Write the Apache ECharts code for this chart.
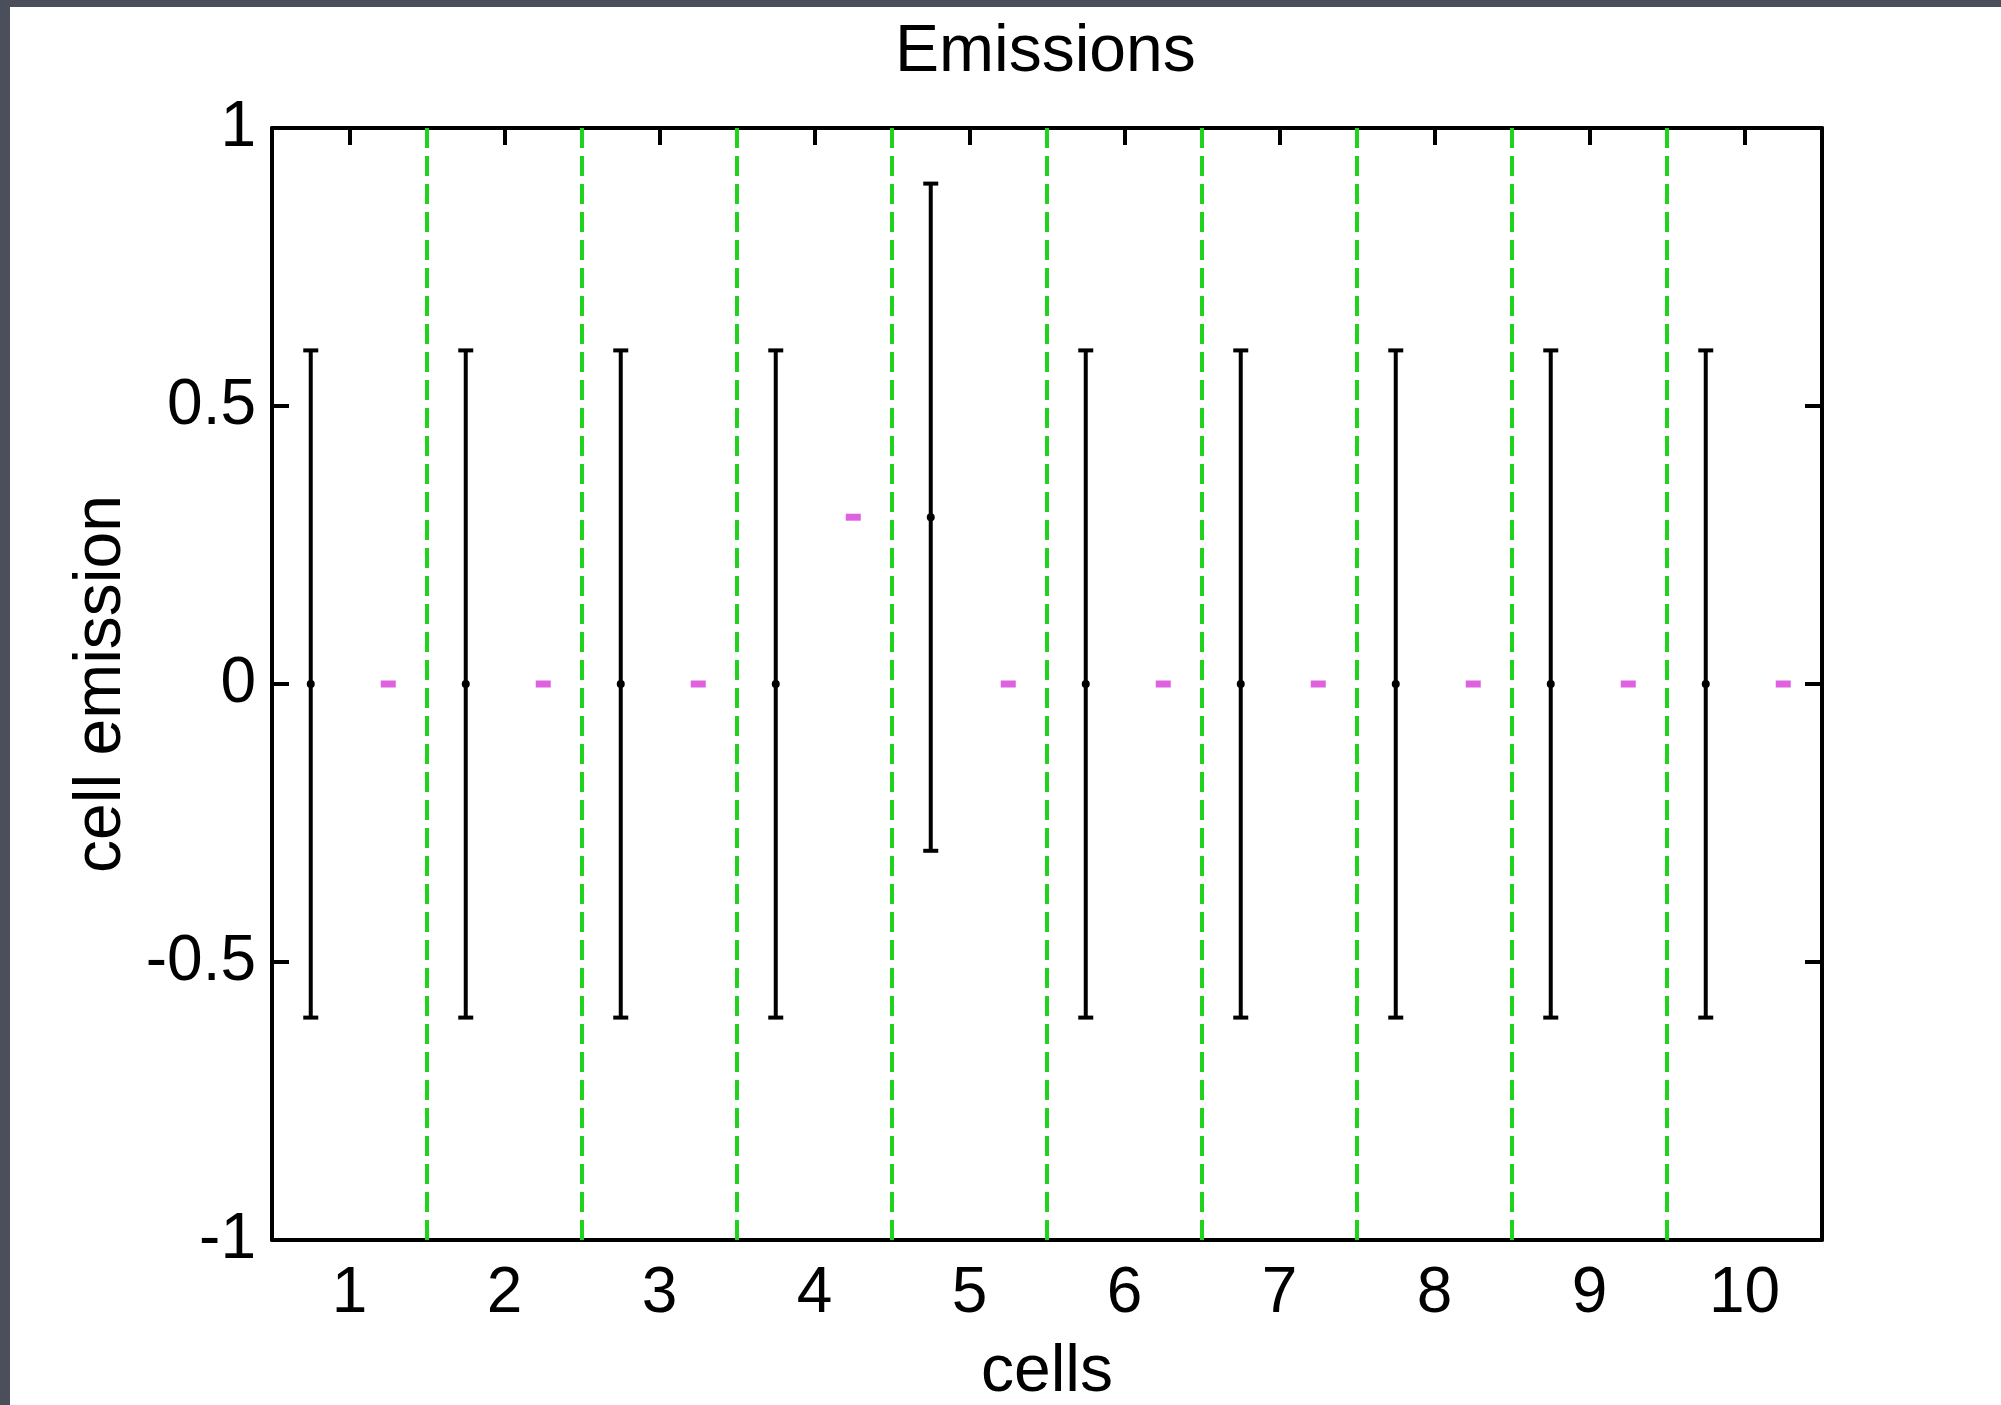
<!DOCTYPE html>
<html>
<head>
<meta charset="utf-8">
<script src="https://cdn.jsdelivr.net/npm/echarts@6/dist/echarts.min.js"></script>
<style>
  html, body { margin: 0; padding: 0; background: #4b4f5b; width: 2001px; height: 1405px; overflow: hidden; }
  #container { position: absolute; left: 10px; top: 7px; width: 1991px; height: 1398px; background: #ffffff; }
</style>
</head>
<body>
<div id="container"></div>
<script>
var cells = [1, 2, 3, 4, 5, 6, 7, 8, 9, 10];
var errLow = [-0.6, -0.6, -0.6, -0.6, -0.3, -0.6, -0.6, -0.6, -0.6, -0.6];
var errMid = [0, 0, 0, 0, 0.3, 0, 0, 0, 0, 0];
var errHigh = [0.6, 0.6, 0.6, 0.6, 0.9, 0.6, 0.6, 0.6, 0.6, 0.6];
var emitted = [0, 0, 0, 0.3, 0, 0, 0, 0, 0, 0];
var cellBorders = [1.5, 2.5, 3.5, 4.5, 5.5, 6.5, 7.5, 8.5, 9.5];
var yTicks = [-1, -0.5, 0, 0.5, 1];

var FONT = '"Liberation Sans", Arial, Helvetica, sans-serif';
var dom = document.getElementById("container");
var myChart = echarts.init(dom, null, { renderer: 'canvas' });

var errData = cells.map(function (c, i) { return [c - 0.25, errLow[i], errHigh[i], errMid[i]]; });
var emitData = cells.map(function (c, i) { return [c + 0.25, emitted[i]]; });

var axisLine = { show: true, onZero: false, lineStyle: { color: '#000', width: 4 } };
var innerTick = { show: true, inside: true, length: 17, lineStyle: { color: '#000', width: 4 } };

var option = {
    animation: false,
    backgroundColor: '#ffffff',
    graphic: [{
        type: 'text',
        left: 1035 - 150,
        top: 13,
        style: { text: 'Emissions', font: '66px ' + FONT, fill: '#000' }
    }],
    grid: { left: 262, right: 179, top: 121, bottom: 165, containLabel: false, outerBoundsMode: 'none' },
    xAxis: [{
        type: 'value', position: 'bottom', min: 0.5, max: 10.5,
        name: 'cells', nameLocation: 'middle', nameGap: 100,
        nameTextStyle: { fontFamily: FONT, fontSize: 66, color: '#000' },
        axisLine: axisLine,
        axisTick: { show: false },
        axisLabel: { customValues: cells, margin: 22, fontFamily: FONT, fontSize: 64, color: '#000' },
        splitLine: { show: false }
    }, {
        type: 'value', position: 'top', min: 0.5, max: 10.5,
        axisLine: axisLine,
        axisTick: Object.assign({ customValues: cells }, innerTick),
        axisLabel: { show: false },
        splitLine: { show: false }
    }],
    yAxis: [{
        type: 'value', position: 'left', min: -1, max: 1, interval: 0.5,
        name: 'cell emission', nameLocation: 'middle', nameGap: 129,
        nameTextStyle: { fontFamily: FONT, fontSize: 66, color: '#000' },
        axisLine: axisLine,
        axisTick: Object.assign({ customValues: yTicks.slice(1, 4) }, innerTick),
        axisLabel: { margin: 16, fontFamily: FONT, fontSize: 64, color: '#000' },
        splitLine: { show: false }
    }, {
        type: 'value', position: 'right', min: -1, max: 1, interval: 0.5,
        axisLine: axisLine,
        axisTick: Object.assign({ customValues: yTicks.slice(1, 4) }, innerTick),
        axisLabel: { show: false },
        splitLine: { show: false }
    }],
    series: [{
        // dashed green borders between cells
        type: 'line', data: [], silent: true,
        markLine: {
            silent: true, symbol: 'none', animation: false,
            label: { show: false },
            lineStyle: { color: '#1ed21e', width: 4, type: [20, 8] },
            data: cellBorders.map(function (b) { return { xAxis: b }; })
        }
    }, {
        type: 'custom', name: 'range',
        renderItem: function (params, api) {
            var x = api.value(0);
            var lo = api.coord([x, api.value(1)]);
            var hi = api.coord([x, api.value(2)]);
            var mid = api.coord([x, api.value(3)]);
            var st = { stroke: '#000', lineWidth: 4 };
            return { type: 'group', children: [
                { type: 'line', shape: { x1: lo[0], y1: lo[1], x2: hi[0], y2: hi[1] }, style: st },
                { type: 'line', shape: { x1: lo[0] - 7.5, y1: lo[1], x2: lo[0] + 7.5, y2: lo[1] }, style: st },
                { type: 'line', shape: { x1: hi[0] - 7.5, y1: hi[1], x2: hi[0] + 7.5, y2: hi[1] }, style: st },
                { type: 'circle', shape: { cx: mid[0], cy: mid[1], r: 4 }, style: { fill: '#000' } }
            ] };
        },
        data: errData, z: 3
    }, {
        type: 'scatter', name: 'emission',
        symbol: 'rect', symbolSize: [15, 7],
        itemStyle: { color: '#d83ad8' },
        data: emitData, z: 4
    }]
};
myChart.setOption(option, true);
</script>
</body>
</html>
